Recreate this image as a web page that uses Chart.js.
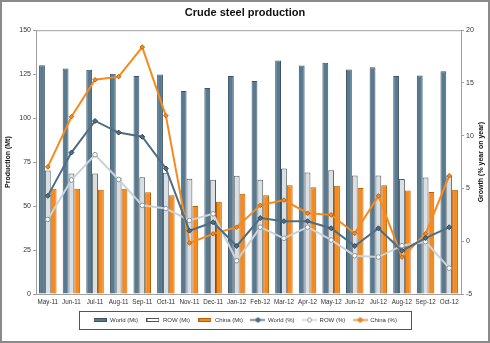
<!DOCTYPE html>
<html>
<head>
<meta charset="utf-8">
<script src="https://cdn.jsdelivr.net/npm/chart.js@4/dist/chart.umd.min.js"></script>
<style>
  html, body { margin: 0; padding: 0; background: #fff; }
  #wrap { width: 490px; height: 343px; }
</style>
</head>
<body>
<div id="wrap"><canvas id="steelChart" width="490" height="343"></canvas></div>
<script>
const months = ['May-11', 'Jun-11', 'Jul-11', 'Aug-11', 'Sep-11', 'Oct-11', 'Nov-11', 'Dec-11', 'Jan-12',
    'Feb-12', 'Mar-12', 'Apr-12', 'May-12', 'Jun-12', 'Jul-12', 'Aug-12', 'Sep-12', 'Oct-12'];

// production, Mt
const worldMt = [130, 128.2, 127.5, 125.2, 124, 124.8, 115.4, 117.1, 124, 121.1, 132.8, 129.9, 131.5, 127.6, 129, 124, 124.2, 126.7];
const rowMt = [70.2, 68.5, 68.5, 66, 66.4, 68.9, 65.6, 65, 67.2, 65, 71.4, 69.1, 70.4, 67.4, 67.4, 65.4, 66.2, 67.4];
const chinaMt = [59.9, 59.9, 59.3, 59.9, 57.8, 56.1, 50, 52.5, 57, 56.1, 61.8, 60.7, 61.6, 60.3, 61.8, 58.8, 58, 59.3];

// growth, % year on year
const worldPct = [4.3, 8.4, 11.4, 10.3, 9.9, 6.9, 1.0, 1.8, -0.45, 2.2, 1.9, 1.9, 1.23, -0.45, 1.23, -0.9, 0.3, 1.33];
const rowPct = [2.06, 5.8, 8.2, 5.85, 3.4, 3.1, 1.97, 2.6, -1.85, 1.33, 0.28, 1.33, 0.12, -1.37, -1.5, -0.42, -0.04, -2.55];
const chinaPct = [7.05, 11.8, 15.3, 15.6, 18.4, 11.9, -0.17, 0.7, 1.33, 3.4, 3.9, 2.66, 2.5, 0.75, 4.3, -1.5, 0.7, 6.2];

const leftTicks = [0, 25, 50, 75, 100, 125, 150];
const rightTicks = [-5, 0, 5, 10, 15, 20];
const rightTitle = 'Growth (% year on year)';

const fontFamily = '"Liberation Sans", Arial, sans-serif';
const slate = '#587a90';
const slateDark = '#3d5466';
const orange = '#f78a1d';

// little legend pictures, drawn the way the old spreadsheet legend looked
const barKey = function (fill, stroke) {
    const c = document.createElement('canvas');
    c.width = 13; c.height = 4;
    const g = c.getContext('2d');
    g.fillStyle = fill;
    g.fillRect(0, 0, 13, 4);
    g.strokeStyle = stroke;
    g.strokeRect(0.5, 0.5, 12, 3);
    return c;
};
const lineKey = function (color, markFill, markStroke, round) {
    const c = document.createElement('canvas');
    c.width = 15; c.height = 7;
    const g = c.getContext('2d');
    g.strokeStyle = color;
    g.lineWidth = 1.5;
    g.beginPath(); g.moveTo(0, 3.5); g.lineTo(15, 3.5); g.stroke();
    g.fillStyle = markFill;
    g.strokeStyle = markStroke;
    g.lineWidth = 1;
    g.beginPath();
    if (round) {
        g.arc(7.5, 3.5, 2, 0, Math.PI * 2);
    } else {
        g.moveTo(7.5, 1); g.lineTo(10, 3.5); g.lineTo(7.5, 6); g.lineTo(5, 3.5); g.closePath();
    }
    g.fill(); g.stroke();
    return c;
};
const legendKeys = [
    barKey(slate, slateDark),
    barKey('#fff', '#555'),
    barKey(orange, '#b8600a'),
    lineKey('#4d6e85', '#4d6e85', '#34495a', false),
    lineKey('#c9d3da', '#fff', '#8a969e', true),
    lineKey(orange, orange, '#c2650d', false)
];

// frame round the plot, border round the picture, legend box, right axis title
const framePlugin = {
    id: 'frames',
    beforeDraw: function (chart) {
        const ctx = chart.ctx;
        ctx.save();
        ctx.fillStyle = '#fff';
        ctx.fillRect(0, 0, chart.width, chart.height);
        ctx.restore();
    },
    afterDraw: function (chart) {
        const ctx = chart.ctx;
        const a = chart.chartArea;
        ctx.save();
        ctx.strokeStyle = '#a0a0a0';
        ctx.lineWidth = 1;
        ctx.strokeRect(a.left + 0.5, a.top + 0.5, a.right - a.left, a.bottom - a.top);

        const boxes = chart.legend.legendHitBoxes;
        if (boxes && boxes.length) {
            let l = Infinity, r = -Infinity, t = Infinity, b = -Infinity;
            boxes.forEach(function (h) {
                l = Math.min(l, h.left); r = Math.max(r, h.left + h.width);
                t = Math.min(t, h.top); b = Math.max(b, h.top + h.height);
            });
            ctx.strokeStyle = '#555';
            ctx.strokeRect(Math.round(l - 14) + 0.5, Math.round(t - 6) + 0.5, Math.round(r - l + 28), Math.round(b - t + 12));
        }

        // right title reads bottom to top, like the left one
        const y1 = chart.scales.y1;
        ctx.translate(y1.right - 7, (a.top + a.bottom) / 2);
        ctx.rotate(-Math.PI / 2);
        ctx.fillStyle = '#111';
        ctx.font = 'bold 7px ' + fontFamily;
        ctx.textAlign = 'center';
        ctx.textBaseline = 'middle';
        ctx.fillText(rightTitle, 0, 0);
        ctx.setTransform(1, 0, 0, 1, 0, 0);

        ctx.strokeStyle = '#8a8a8a';
        ctx.lineWidth = 2;
        ctx.strokeRect(1, 1, chart.width - 2, chart.height - 2);
        ctx.restore();
    }
};

const ctx = document.getElementById('steelChart').getContext('2d');
const steelChart = new Chart(ctx, {
    data: {
        labels: months,
        datasets: [
            {
                type: 'bar', label: 'World (Mt)', data: worldMt, yAxisID: 'y',
                backgroundColor: slate, borderColor: slateDark, borderWidth: 1, order: 2
            },
            {
                type: 'bar', label: 'ROW (Mt)', data: rowMt, yAxisID: 'y',
                backgroundColor: '#d8e0e6', borderColor: '#5a5a5a', borderWidth: 1, order: 2
            },
            {
                type: 'bar', label: 'China (Mt)', data: chinaMt, yAxisID: 'y',
                backgroundColor: orange, borderColor: '#b8600a', borderWidth: 1, order: 2
            },
            {
                type: 'line', label: 'World (%)', data: worldPct, yAxisID: 'y1',
                borderColor: '#4d6e85', backgroundColor: '#4d6e85', borderWidth: 2,
                pointStyle: 'rectRot', pointRadius: 2.5, pointBackgroundColor: '#4d6e85',
                pointBorderColor: '#34495a', pointBorderWidth: 1, tension: 0, order: 1
            },
            {
                type: 'line', label: 'ROW (%)', data: rowPct, yAxisID: 'y1',
                borderColor: '#c9d3da', backgroundColor: '#c9d3da', borderWidth: 2,
                pointStyle: 'circle', pointRadius: 2.3, pointBackgroundColor: '#fff',
                pointBorderColor: '#8a969e', pointBorderWidth: 1, tension: 0, order: 1
            },
            {
                type: 'line', label: 'China (%)', data: chinaPct, yAxisID: 'y1',
                borderColor: orange, backgroundColor: orange, borderWidth: 2,
                pointStyle: 'rectRot', pointRadius: 2.3, pointBackgroundColor: orange,
                pointBorderColor: '#c2650d', pointBorderWidth: 1, tension: 0, order: 1
            }
        ]
    },
    options: {
        responsive: false,
        animation: false,
        layout: { padding: { top: 3, bottom: 10, left: 2, right: 2 } },
        datasets: {
            bar: { categoryPercentage: 0.74, barPercentage: 1 }
        },
        plugins: {
            title: {
                display: true,
                text: 'Crude steel production',
                color: '#111',
                font: { family: fontFamily, size: 11, weight: 'bold' },
                padding: { top: 3, bottom: 11 }
            },
            legend: {
                position: 'bottom',
                labels: {
                    color: '#333',
                    font: { family: fontFamily, size: 6 },
                    usePointStyle: true,
                    pointStyleWidth: 14,
                    boxHeight: 6,
                    padding: 8,
                    sort: (a, b) => a.datasetIndex - b.datasetIndex,
                    generateLabels: function (chart) {
                        const items = Chart.defaults.plugins.legend.labels.generateLabels(chart);
                        items.forEach(function (item) {
                            item.pointStyle = legendKeys[item.datasetIndex];
                            item.rotation = 0;
                        });
                        return items;
                    }
                }
            },
            tooltip: { enabled: false }
        },
        scales: {
            x: {
                grid: { display: false, drawTicks: false },
                border: { display: true, color: '#a0a0a0' },
                ticks: {
                    color: '#333', maxRotation: 0, autoSkip: false, padding: 4,
                    font: { family: fontFamily, size: 6.3 }
                },
                afterFit: function (scale) { scale.height = 15; }
            },
            y: {
                position: 'left',
                min: 0, max: 150,
                afterBuildTicks: function (scale) { scale.ticks = leftTicks.map(v => ({ value: v })); },
                grid: { drawOnChartArea: false, drawTicks: true, tickLength: 3, color: '#a0a0a0' },
                border: { color: '#a0a0a0' },
                ticks: { color: '#333', padding: 2, font: { family: fontFamily, size: 7 } },
                title: {
                    display: true, text: 'Production (Mt)', color: '#111',
                    font: { family: fontFamily, size: 7, weight: 'bold' }, padding: { top: 2, bottom: 2 }
                },
                afterFit: function (scale) { scale.width = 34; }
            },
            y1: {
                position: 'right',
                min: -5, max: 20,
                afterBuildTicks: function (scale) { scale.ticks = rightTicks.map(v => ({ value: v })); },
                grid: { drawOnChartArea: false, drawTicks: true, tickLength: 3, color: '#a0a0a0' },
                border: { color: '#a0a0a0' },
                ticks: { color: '#333', padding: 2, font: { family: fontFamily, size: 7 } },
                afterFit: function (scale) { scale.width = 27; }
            }
        }
    },
    plugins: [framePlugin]
});
</script>
</body>
</html>
